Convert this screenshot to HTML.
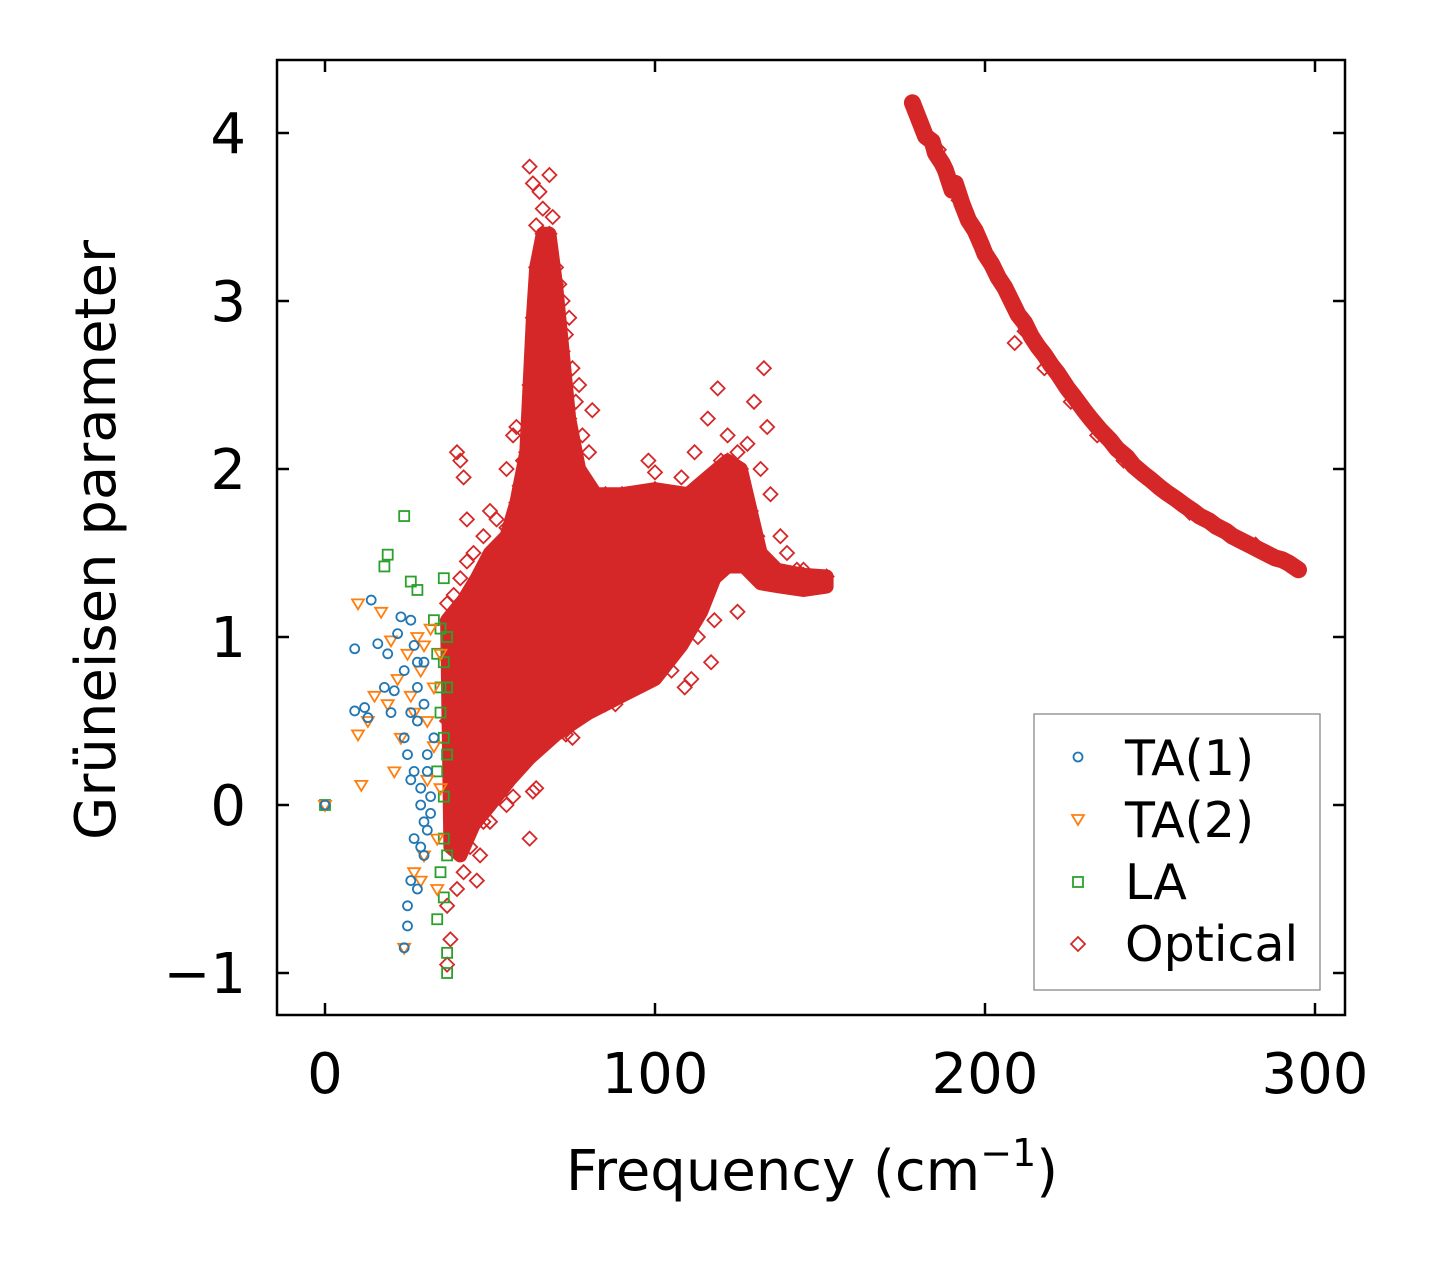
<!DOCTYPE html>
<html><head><meta charset="utf-8"><style>
body{margin:0;background:#fff}
svg{display:block;font-family:"DejaVu Sans","Liberation Sans",sans-serif}
</style></head><body>
<svg id="chart" width="1431" height="1264" viewBox="0 0 1431 1264" xmlns="http://www.w3.org/2000/svg">
<rect width="1431" height="1264" fill="#fff"/>
<g id="marks"></g>
<g id="axes"></g>
<text x="812" y="1190" font-size="56" text-anchor="middle">Frequency (cm<tspan font-size="38" dy="-24">−1</tspan><tspan dy="24">)</tspan></text>
<text transform="translate(115,540) rotate(-90)" font-size="56" text-anchor="middle">Grüneisen parameter</text>
<g>
<rect x="1034" y="714" width="286" height="276" fill="#fff" stroke="#999" stroke-width="1.5"/>
<circle cx="1078" cy="757" r="4.5" fill="none" stroke="#1f77b4" stroke-width="1.8"/>
<text x="1125" y="775" font-size="49">TA(1)</text>
<path d="M1072,815 L1084,815 L1078,825 Z" fill="none" stroke="#ff7f0e" stroke-width="1.8"/>
<text x="1125" y="837" font-size="49">TA(2)</text>
<rect x="1073" y="877" width="10" height="10" fill="none" stroke="#2ca02c" stroke-width="1.8"/>
<text x="1125" y="899" font-size="49">LA</text>
<path d="M1078,937 L1085,944 L1078,951 L1071,944 Z" fill="none" stroke="#d62728" stroke-width="1.8"/>
<text x="1125" y="961" font-size="49">Optical</text>
</g>
</svg>
<script>
const xTicks=[0,100,200,300];
const yTicks=[-1,0,1,2,3,4];
const yTickLabels=["−1","0","1","2","3","4"];
const ta1X=[0,9,9,12,14,13,16,18,19,20,21,22,23,24,24,25,25,26,26,27,27,28,28,29,29,30,30,31,31,32,33,24,25,26,27,28,29,30,31,32,26,28,30];
const ta1Y=[0,0.93,0.56,0.58,1.22,0.52,0.96,0.7,0.9,0.55,0.68,1.02,1.12,0.8,0.4,0.3,-0.6,0.55,-0.45,0.95,0.2,-0.5,0.85,0.1,-0.25,0.6,-0.1,0.3,-0.15,0.05,0.4,-0.85,-0.72,0.15,-0.2,0.5,0.0,-0.3,0.2,-0.05,1.1,0.7,0.85];
const ta2X=[0,10,10,11,13,15,17,19,20,21,22,23,24,25,26,27,28,29,30,31,32,33,34,35,29,31,33,27,30,34,35];
const ta2Y=[0,1.2,0.42,0.12,0.5,0.65,1.15,0.6,0.98,0.2,0.75,0.4,-0.85,0.9,0.65,-0.4,1.0,0.8,-0.3,0.5,1.05,0.35,-0.5,0.9,-0.45,0.15,0.7,0.55,0.95,-0.2,0.1];
const laX=[0,18,19,24,26,28,33,34,35,36,36,37,37,34,35,36,37,35,36,37,34,36,37,36,35,37];
const laY=[0,1.42,1.49,1.72,1.33,1.28,1.1,0.9,0.7,0.4,1.35,1.0,-0.88,0.2,-0.4,-0.2,-1.0,0.55,0.05,0.7,-0.68,-0.55,0.3,0.85,1.05,-0.3];
const coreUpperX=[37,42,46,50,55,58,61,62,63,64,66,68,70,72,74,77,82,90,100,110,116,122,126,129,132,137,145,152];
const coreUpperY=[1.1,1.22,1.35,1.5,1.6,1.8,2.1,2.5,2.9,3.2,3.4,3.4,3.1,2.7,2.3,2.0,1.85,1.85,1.88,1.85,1.95,2.05,2.0,1.75,1.5,1.4,1.37,1.36];
const coreLowerX=[152,145,138,132,127,122,118,114,108,100,90,80,70,62,56,50,45,41,38];
const coreLowerY=[1.3,1.28,1.3,1.32,1.42,1.42,1.35,1.15,0.95,0.75,0.65,0.55,0.42,0.28,0.15,0.0,-0.12,-0.3,-0.25];
const optX=[37,38,37,40,42,46,47,40,41,42,43,45,62,63,65,66,68,64,69,70,72,73,75,76,78,81,58,57,60,55,98,112,116,119,122,130,133,134,132,135,138,140,143,125,118,117,109,111,105,95,88,85,75,73,64,63,62,57,55,50,48,53,44,39,38,37,38,37,39,41,43,48,50,52,55,59,61,150,147,128,125,120,108,100,92,85,66,67,71,74,77,80,105,113,127,131,141,145];
const optY=[-0.6,-0.8,-0.95,-0.5,-0.4,-0.45,-0.3,2.1,2.05,1.95,1.7,1.5,3.8,3.7,3.65,3.55,3.75,3.45,3.5,3.2,3.0,2.8,2.6,2.4,2.2,2.35,2.25,2.2,2.05,2.0,2.05,2.1,2.3,2.48,2.2,2.4,2.6,2.25,2.0,1.85,1.6,1.5,1.4,1.15,1.1,0.85,0.7,0.75,0.8,0.75,0.6,0.6,0.4,0.42,0.1,0.08,-0.2,0.05,0.0,-0.1,-0.1,0.1,-0.25,-0.15,0.2,0.5,0.8,1.2,1.25,1.35,1.45,1.6,1.75,1.7,1.65,1.9,1.95,1.33,1.35,2.15,2.1,2.05,1.95,1.98,1.85,1.85,3.4,3.3,3.1,2.9,2.5,2.1,0.9,1.0,1.6,1.6,1.3,1.4];
const bandX=[178,180,182,184,185,187,188,190,191,193,195,197,199,200,202,204,206,208,210,212,214,216,218,220,222,225,227,230,232,235,238,240,243,245,248,250,253,255,258,260,263,265,268,270,273,275,278,280,283,285,288,290,292,295,186,192,198,205,212,218,226,234,242,252,262,272,282,209];
const bandY=[4.18,4.08,3.98,3.95,3.88,3.82,3.78,3.66,3.7,3.58,3.48,3.42,3.33,3.28,3.22,3.14,3.08,3.0,2.92,2.87,2.79,2.73,2.68,2.62,2.57,2.48,2.43,2.35,2.3,2.23,2.17,2.12,2.07,2.02,1.97,1.94,1.89,1.86,1.82,1.79,1.75,1.72,1.69,1.66,1.63,1.6,1.57,1.55,1.52,1.5,1.47,1.46,1.44,1.4,3.9,3.6,3.38,3.1,2.82,2.6,2.4,2.2,2.05,1.9,1.74,1.64,1.55,2.75];

const X0=325,XS=3.3,Y0=805,YS=168;
const L=277,R=1345,T=60,B=1015;
function sx(v){return X0+v*XS;}
function sy(v){return Y0-v*YS;}
const NS="http://www.w3.org/2000/svg";
const marks=document.getElementById('marks');
const axes=document.getElementById('axes');
function mk(tag,attrs,parent){const e=document.createElementNS(NS,tag);for(const k in attrs)e.setAttribute(k,attrs[k]);parent.appendChild(e);return e;}

let pts=[];
for(let i=0;i<coreUpperX.length;i++)pts.push(sx(coreUpperX[i])+','+sy(coreUpperY[i]));
for(let i=0;i<coreLowerX.length;i++)pts.push(sx(coreLowerX[i])+','+sy(coreLowerY[i]));
const core=mk('polygon',{points:pts.join(' '),fill:'#d62728',stroke:'#d62728','stroke-width':14,'stroke-linejoin':'round'},marks);



function diamond(x,y,name){const cx=sx(x),cy=sy(y);const e=mk('path',{d:`M${cx},${cy-7}L${cx+7},${cy}L${cx},${cy+7}L${cx-7},${cy}Z`,fill:'none',stroke:'#d62728','stroke-width':1.8},marks);

}
for(let i=0;i<coreUpperX.length;i++)diamond(coreUpperX[i],coreUpperY[i],'optical-point');
for(let i=0;i<optX.length;i++)diamond(optX[i],optY[i],'optical-point');

let bp=[];
for(let i=0;i<54;i++)bp.push(sx(bandX[i])+','+sy(bandY[i]));
const band=mk('polyline',{points:bp.join(' '),fill:'none',stroke:'#d62728','stroke-width':17,'stroke-linejoin':'round','stroke-linecap':'round'},marks);


for(let i=0;i<bandX.length;i++)diamond(bandX[i],bandY[i],'optical-point');

for(let i=0;i<laX.length;i++){const cx=sx(laX[i]),cy=sy(laY[i]);const e=mk('rect',{x:cx-5,y:cy-5,width:10,height:10,fill:'none',stroke:'#2ca02c','stroke-width':1.8},marks);

}
for(let i=0;i<ta2X.length;i++){const cx=sx(ta2X[i]),cy=sy(ta2Y[i]);const e=mk('path',{d:`M${cx-6},${cy-4}L${cx+6},${cy-4}L${cx},${cy+6}Z`,fill:'none',stroke:'#ff7f0e','stroke-width':1.8},marks);

}
for(let i=0;i<ta1X.length;i++){const e=mk('circle',{cx:sx(ta1X[i]),cy:sy(ta1Y[i]),r:4.5,fill:'none',stroke:'#1f77b4','stroke-width':1.8},marks);

}

const fr=mk('rect',{x:L,y:T,width:R-L,height:B-T,fill:'none',stroke:'#000','stroke-width':2.5},axes);


for(const v of xTicks){const x=sx(v);
mk('line',{x1:x,y1:B,x2:x,y2:B-12,stroke:'#000','stroke-width':2.5},axes);
mk('line',{x1:x,y1:T,x2:x,y2:T+12,stroke:'#000','stroke-width':2.5},axes);
const t=mk('text',{x:x,y:1093,'font-size':56,'text-anchor':'middle'},axes);t.textContent=v;

}
yTicks.forEach((v,i)=>{const y=sy(v);
mk('line',{x1:L,y1:y,x2:L+12,y2:y,stroke:'#000','stroke-width':2.5},axes);
mk('line',{x1:R,y1:y,x2:R-12,y2:y,stroke:'#000','stroke-width':2.5},axes);
const t=mk('text',{x:246,y:y+20,'font-size':56,'text-anchor':'end'},axes);t.textContent=yTickLabels[i];

});
</script>
</body></html>
